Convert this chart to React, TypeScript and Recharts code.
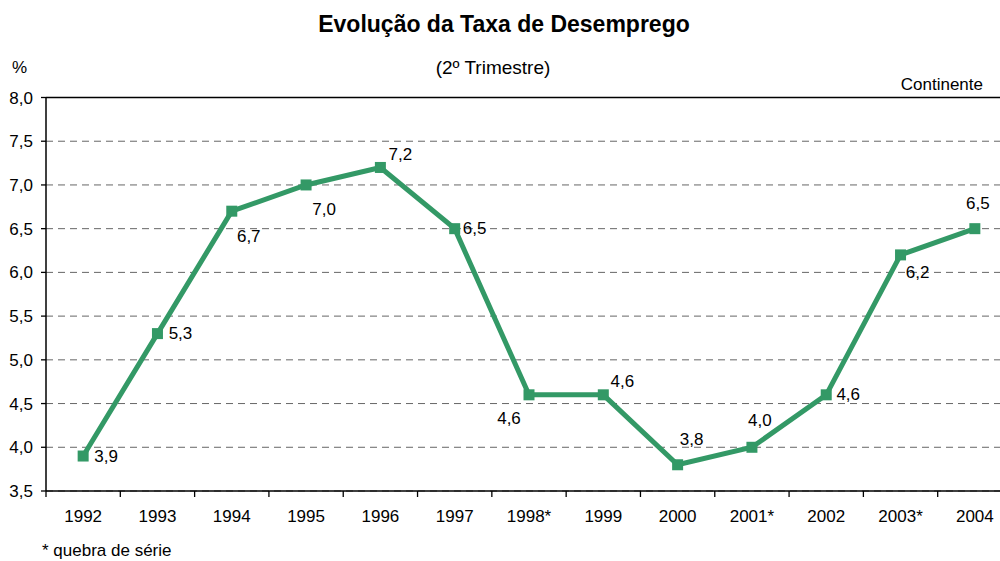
import React from 'react';
import { LineChart, Line, XAxis, YAxis, CartesianGrid, ReferenceLine, LabelList } from 'recharts';

// data (2nd quarter unemployment rate, %)
const years = ['1992', '1993', '1994', '1995', '1996', '1997', '1998*', '1999', '2000', '2001*', '2002', '2003*', '2004'];
const rates = [3.9, 5.3, 6.7, 7.0, 7.2, 6.5, 4.6, 4.6, 3.8, 4.0, 4.6, 6.2, 6.5];
const yTicks = [3.5, 4.0, 4.5, 5.0, 5.5, 6.0, 6.5, 7.0, 7.5, 8.0];

// label placement (Excel-style, per point) — offset of label centre from the marker
const labelOffsets: [number, number][] = [
    [23, 0], [23, 0], [17, 25], [18, 25], [20, -13], [20, 0], [-20, 24],
    [19, -13], [14, -25], [8, -27], [22, 0], [17, 18], [3, -25],
];

const data = years.map((year, i) => ({ idx: i, year, rate: rates[i] }));

const FONT = '"Liberation Sans", Arial, sans-serif';
const GREEN = '#339966';
const CHART_W = 1012;
const CHART_H = 561;
const Y_AXIS_W = 46;
const BAND = (CHART_W - Y_AXIS_W) / years.length;
const FS = 17;

const fmt = (v: number) => v.toFixed(1).replace('.', ',');

const SquareDot = (props: any) => {
    const { cx, cy } = props;
    if (cx == null || cy == null) return null;
    return <rect x={cx - 5.5} y={cy - 5.5} width={11} height={11} fill={GREEN} />;
};

const XTick = (props: any) => {
    const { x, y, payload } = props;
    const left = x - BAND / 2;
    return (
        <g>
            <line x1={left} x2={left} y1={y - 8} y2={y - 2} stroke="#000" strokeWidth={1.3} />
            <text x={x} y={y + 23} textAnchor="middle" fontSize={FS} fontFamily={FONT} fill="#000">
                {years[payload.value]}
            </text>
        </g>
    );
};

const PointLabel = (props: any) => {
    const { x, y, index, value } = props;
    const [dx, dy] = labelOffsets[index] || [0, -15];
    return (
        <text x={x + dx} y={y + dy} textAnchor="middle" dominantBaseline="central" fontSize={FS} fontFamily={FONT} fill="#000">
            {fmt(value)}
        </text>
    );
};

export default function App() {
    return (
        <div style={{ position: 'absolute', left: 0, top: 0, width: 1000, height: 561, overflow: 'hidden', background: '#fff' }}>
            <LineChart width={CHART_W} height={CHART_H} data={data} margin={{ top: 97.5, right: 0, bottom: 40, left: 0 }}>
                <CartesianGrid vertical={false} stroke="#666" strokeDasharray="7 5" />
                <XAxis
                    dataKey="idx"
                    type="number"
                    domain={[-0.5, years.length - 0.5]}
                    ticks={years.map((_, i) => i)}
                    interval={0}
                    height={30}
                    axisLine={{ stroke: '#000', strokeWidth: 1.5 }}
                    tickLine={false}
                    tick={<XTick />}
                />
                <YAxis
                    domain={[3.5, 8]}
                    ticks={yTicks}
                    interval={0}
                    width={Y_AXIS_W}
                    tickFormatter={fmt}
                    axisLine={{ stroke: '#000', strokeWidth: 1.5 }}
                    tickLine={{ stroke: '#000', strokeWidth: 1.3 }}
                    tickSize={5}
                    tickMargin={8}
                    tick={{ fill: '#000', fontSize: FS, fontFamily: FONT }}
                />
                <ReferenceLine y={8} stroke="#000" strokeWidth={1.5} />
                <Line
                    dataKey="rate"
                    stroke={GREEN}
                    strokeWidth={5}
                    dot={<SquareDot />}
                    activeDot={false}
                    isAnimationActive={false}
                >
                    <LabelList dataKey="rate" content={<PointLabel />} />
                </Line>
            </LineChart>
            <svg width={1000} height={561} style={{ position: 'absolute', left: 0, top: 0, pointerEvents: 'none' }} fontFamily={FONT}>
                <text x={504} y={32} textAnchor="middle" fontSize={23} fontWeight="bold" fill="#000">Evolução da Taxa de Desemprego</text>
                <text x={493} y={74} textAnchor="middle" fontSize={19} fill="#000">(2º Trimestre)</text>
                <text x={12} y={73} fontSize={FS} fill="#000">%</text>
                <text x={983} y={90} textAnchor="end" fontSize={FS} fill="#000">Continente</text>
                <text x={42} y={556} fontSize={FS} fill="#000">* quebra de série</text>
            </svg>
        </div>
    );
}
